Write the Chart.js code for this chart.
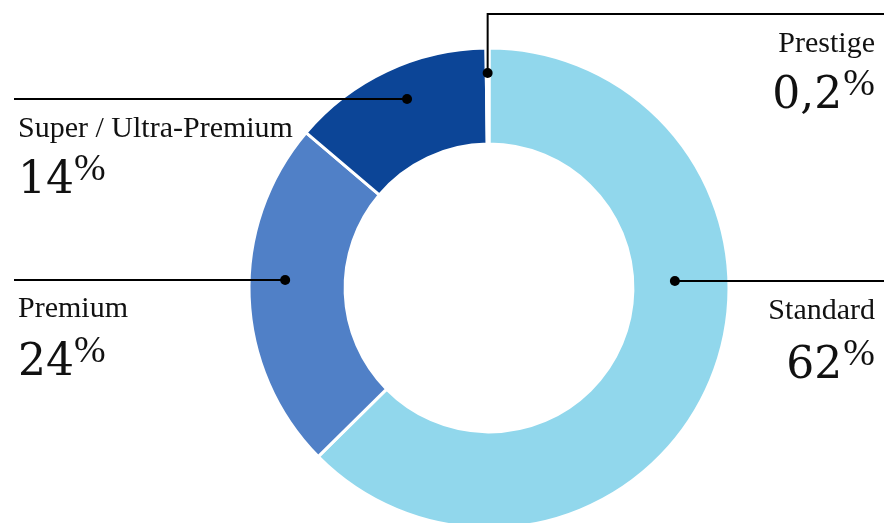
<!DOCTYPE html>
<html>
<head>
<meta charset="utf-8">
<title>Segment shares</title>
<script src="https://cdn.jsdelivr.net/npm/chart.js@4.4.0/dist/chart.umd.min.js"></script>
<style>
  html, body { margin: 0; padding: 0; background: #fff; overflow: hidden; }
  #wrap { width: 884px; height: 523px; overflow: hidden; position: relative; }
  canvas { display: block; }
</style>
</head>
<body>
<div id="wrap">
  <canvas id="segmentChart" width="884" height="560"></canvas>
</div>
<script>
// --- DATA ---
// slice sizes read off the arc angles; the printed labels are the rounded figures
const categories = ['Standard', 'Premium', 'Super / Ultra-Premium', 'Prestige'];
const shares = [62.6, 23.6, 13.6, 0.2];
const shareLabels = ['62', '24', '14', '0,2'];
const sliceColors = ['#91d7ec', '#5080c7', '#0c4597', '#ffffff'];

// --- CALLOUT LAYOUT (label placement only) ---
// side: where the text sits, lineY: y of the leader line, dotR: distance of the dot from the centre
const callouts = [
  { side: 'right', lineY: 281, dotR: 186, labelY: 319, valueY: 378 },
  { side: 'left',  lineY: 280, dotR: 204, labelY: 317, valueY: 375 },
  { side: 'left',  lineY: 99,  dotR: 206, labelY: 137, valueY: 193 },
  { side: 'top',   lineY: 14,  dotR: 215, labelY: 52,  valueY: 108 }
];

const LEFT_X = 18;
const RIGHT_X = 875;
const LABEL_FONT = '30px "Liberation Serif", serif';
const VALUE_FONT = '44px "DejaVu Serif", serif';
const PCT_FONT = '38px "Liberation Serif", serif';

const leaderPlugin = {
  id: 'leaders',
  afterDatasetsDraw(chart) {
    const ctx = chart.ctx;
    const arcs = chart.getDatasetMeta(0).data;
    const w = chart.width;

    ctx.save();
    ctx.lineWidth = 2;

    arcs.forEach((arc, i) => {
      const c = callouts[i];
      let dotX, dotY;
      if (c.side === 'top') {
        // thin slice: put the dot on its middle angle
        const mid = (arc.startAngle + arc.endAngle) / 2;
        dotX = arc.x + c.dotR * Math.cos(mid);
        dotY = arc.y + c.dotR * Math.sin(mid);
      } else {
        const dy = c.lineY - arc.y;
        const dx = Math.sqrt(Math.max(c.dotR * c.dotR - dy * dy, 0));
        dotX = arc.x + (c.side === 'left' ? -dx : dx);
        dotY = c.lineY;
      }

      // leader line
      ctx.strokeStyle = '#000';
      ctx.fillStyle = '#000';
      ctx.beginPath();
      if (c.side === 'left') {
        ctx.moveTo(14, dotY);
        ctx.lineTo(dotX, dotY);
      } else if (c.side === 'right') {
        ctx.moveTo(dotX, dotY);
        ctx.lineTo(w, dotY);
      } else {
        ctx.moveTo(dotX, dotY);
        ctx.lineTo(dotX, c.lineY);
        ctx.lineTo(w, c.lineY);
      }
      ctx.stroke();

      // dot
      ctx.beginPath();
      ctx.arc(dotX, dotY, 5, 0, Math.PI * 2);
      ctx.fill();

      // category label
      ctx.fillStyle = '#111';
      ctx.textBaseline = 'alphabetic';
      ctx.font = LABEL_FONT;
      const leftSide = c.side === 'left';
      ctx.textAlign = leftSide ? 'left' : 'right';
      ctx.fillText(categories[i], leftSide ? LEFT_X : RIGHT_X, c.labelY);

      // value with superscript percent sign
      const pctY = c.valueY - 13;
      if (leftSide) {
        ctx.textAlign = 'left';
        ctx.font = VALUE_FONT;
        ctx.fillText(shareLabels[i], LEFT_X, c.valueY);
        const numW = ctx.measureText(shareLabels[i]).width;
        ctx.font = PCT_FONT;
        ctx.fillText('%', LEFT_X + numW, pctY);
      } else {
        ctx.textAlign = 'right';
        ctx.font = PCT_FONT;
        ctx.fillText('%', RIGHT_X, pctY);
        const pctW = ctx.measureText('%').width;
        ctx.font = VALUE_FONT;
        ctx.fillText(shareLabels[i], RIGHT_X - pctW - 1, c.valueY);
      }
    });
    ctx.restore();
  }
};

document.addEventListener('DOMContentLoaded', () => {
  const ctx = document.getElementById('segmentChart').getContext('2d');
  new Chart(ctx, {
    type: 'doughnut',
    data: {
      labels: categories,
      datasets: [{
        data: shares,
        backgroundColor: sliceColors,
        borderColor: '#ffffff',
        borderWidth: 3
      }]
    },
    options: {
      responsive: false,
      animation: false,
      radius: 240,
      cutout: 143,
      layout: { padding: { left: 249, right: 155, top: 48, bottom: 32 } },
      plugins: {
        legend: { display: false },
        tooltip: { enabled: false }
      }
    },
    plugins: [leaderPlugin]
  });
});
</script>
</body>
</html>
